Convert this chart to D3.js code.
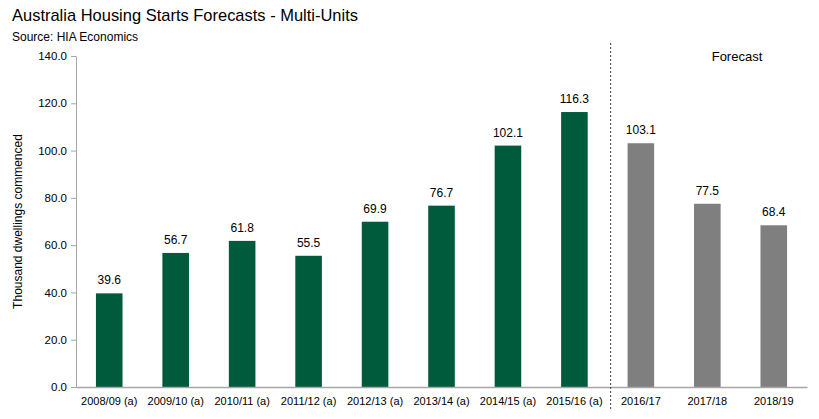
<!DOCTYPE html>
<html>
<head>
<meta charset="utf-8">
<script src="https://cdn.jsdelivr.net/npm/d3@7"></script>
<style>
  body { margin: 0; background: #fff; }
  text { font-family: "Liberation Sans", Arial, sans-serif; }
</style>
</head>
<body>
<svg id="chart" width="819" height="419"></svg>
<script>
// chart data
var categories = ["2008/09 (a)", "2009/10 (a)", "2010/11 (a)", "2011/12 (a)", "2012/13 (a)",
  "2013/14 (a)", "2014/15 (a)", "2015/16 (a)", "2016/17", "2017/18", "2018/19"];
var values = [39.6, 56.7, 61.8, 55.5, 69.9, 76.7, 102.1, 116.3, 103.1, 77.5, 68.4];
var isForecast = [false, false, false, false, false, false, false, false, true, true, true];
var yTicks = [0, 20, 40, 60, 80, 100, 120, 140];

var margin = { left: 76, right: 12, top: 56, bottom: 32 };
var w = 819, h = 419;

var svg = d3.select("#chart");

var x = d3.scaleBand()
  .domain(categories)
  .range([margin.left, w - margin.right])
  .paddingInner(0.6)
  .paddingOuter(0.3);

var y = d3.scaleLinear()
  .domain([0, 140])
  .range([h - margin.bottom, margin.top]);

// y axis
var yAxis = svg.append("g")
  .attr("transform", "translate(" + margin.left + ",0)")
  .call(d3.axisLeft(y).tickValues(yTicks).tickFormat(d3.format(".1f")).tickSize(5).tickSizeOuter(0));
yAxis.select(".domain").attr("stroke", "#a6a6a6");
yAxis.selectAll(".tick line").attr("stroke", "#a6a6a6");
yAxis.selectAll(".tick text").attr("font-size", 11.5).attr("fill", "#000").attr("x", -9);

// bars
svg.selectAll("rect.bar")
  .data(values)
  .enter()
  .append("rect")
  .attr("class", "bar")
  .attr("x", function(d, i) { return x(categories[i]); })
  .attr("y", function(d) { return y(d); })
  .attr("width", x.bandwidth())
  .attr("height", function(d) { return y(0) - y(d); })
  .attr("fill", function(d, i) { return isForecast[i] ? "#7f7f7f" : "#005a3c"; });

// value labels
svg.selectAll("text.val")
  .data(values)
  .enter()
  .append("text")
  .attr("class", "val")
  .attr("x", function(d, i) { return x(categories[i]) + x.bandwidth() / 2; })
  .attr("y", function(d) { return y(d) - 9; })
  .attr("text-anchor", "middle")
  .attr("font-size", 12)
  .text(function(d) { return d.toFixed(1); });

// x axis
var xAxis = svg.append("g")
  .attr("transform", "translate(0," + y(0) + ")")
  .call(d3.axisBottom(x).tickSize(0).tickSizeOuter(0));
xAxis.select(".domain").attr("stroke", "#a6a6a6").attr("stroke-width", 1.5);
xAxis.selectAll(".tick text").attr("font-size", 11).attr("fill", "#000").attr("dy", "1.4em");

// forecast divider
var step = x.step();
var divX = x(categories[8]) - (step - x.bandwidth()) / 2 + 3;
svg.append("line")
  .attr("x1", divX).attr("x2", divX)
  .attr("y1", 43).attr("y2", h - 8)
  .attr("stroke", "#404040")
  .attr("stroke-dasharray", "2,2");

svg.append("text")
  .attr("x", 737).attr("y", 61)
  .attr("text-anchor", "middle")
  .attr("font-size", 13)
  .text("Forecast");

// titles
svg.append("text")
  .attr("x", 12).attr("y", 21)
  .attr("font-size", 17)
  .attr("textLength", 346)
  .attr("lengthAdjust", "spacingAndGlyphs")
  .text("Australia Housing Starts Forecasts - Multi-Units");

svg.append("text")
  .attr("x", 12).attr("y", 41)
  .attr("font-size", 12)
  .text("Source: HIA Economics");

svg.append("text")
  .attr("transform", "translate(22," + y(70) + ") rotate(-90)")
  .attr("text-anchor", "middle")
  .attr("font-size", 12)
  .text("Thousand dwellings commenced");
</script>
</body>
</html>
